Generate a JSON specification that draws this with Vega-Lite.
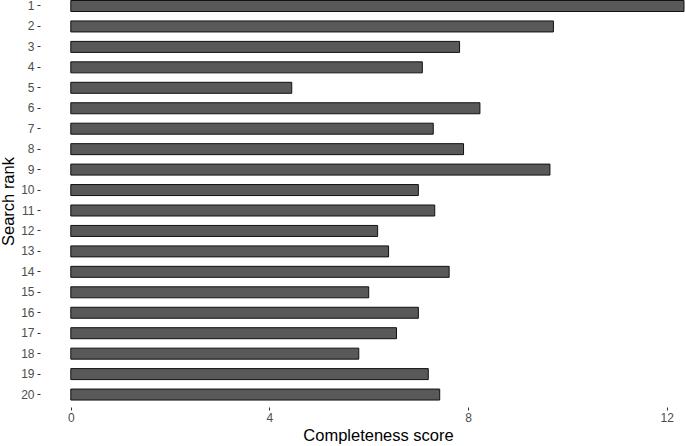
{
  "$schema": "https://vega.github.io/schema/vega-lite/v6.json",
  "width": 645,
  "height": 407,
  "autosize": {"type": "none"},
  "padding": {"left": 40, "top": 0, "right": 0, "bottom": 39},
  "background": "white",
  "config": {
    "view": {"stroke": null},
    "font": "Liberation Sans",
    "axis": {
      "grid": false,
      "domain": false,
      "tickColor": "#333333",
      "tickSize": 3,
      "labelColor": "#4D4D4D",
      "labelFontSize": 12,
      "labelFont": "Liberation Sans",
      "titleFont": "Liberation Sans",
      "titleFontSize": 16.5,
      "titleFontWeight": "normal",
      "titleColor": "black"
    }
  },
  "data": {
    "values": [
      {"rank": "1", "score": 12.35},
      {"rank": "2", "score": 9.72},
      {"rank": "3", "score": 7.83},
      {"rank": "4", "score": 7.08},
      {"rank": "5", "score": 4.45},
      {"rank": "6", "score": 8.24},
      {"rank": "7", "score": 7.30},
      {"rank": "8", "score": 7.91},
      {"rank": "9", "score": 9.65},
      {"rank": "10", "score": 7.00},
      {"rank": "11", "score": 7.33},
      {"rank": "12", "score": 6.18},
      {"rank": "13", "score": 6.40},
      {"rank": "14", "score": 7.62},
      {"rank": "15", "score": 6.00},
      {"rank": "16", "score": 7.00},
      {"rank": "17", "score": 6.56},
      {"rank": "18", "score": 5.80},
      {"rank": "19", "score": 7.20},
      {"rank": "20", "score": 7.43}
    ]
  },
  "mark": {"type": "bar", "fill": "#595959", "stroke": "#111111", "strokeWidth": 1},
  "encoding": {
    "y": {
      "field": "rank",
      "type": "ordinal",
      "sort": null,
      "title": "Search rank",
      "scale": {"paddingInner": 0.462, "paddingOuter": 0.182, "align": 0.067},
      "axis": {"labelPadding": 3, "titleX": -24, "titleY": 201, "titleBaseline": "bottom"}
    },
    "x": {
      "field": "score",
      "type": "quantitative",
      "title": "Completeness score",
      "scale": {"domain": [-0.62, 12.37], "zero": false, "nice": false},
      "axis": {"values": [0, 4, 8, 12], "labelPadding": 2, "titlePadding": 4, "titleX": 338}
    }
  }
}
